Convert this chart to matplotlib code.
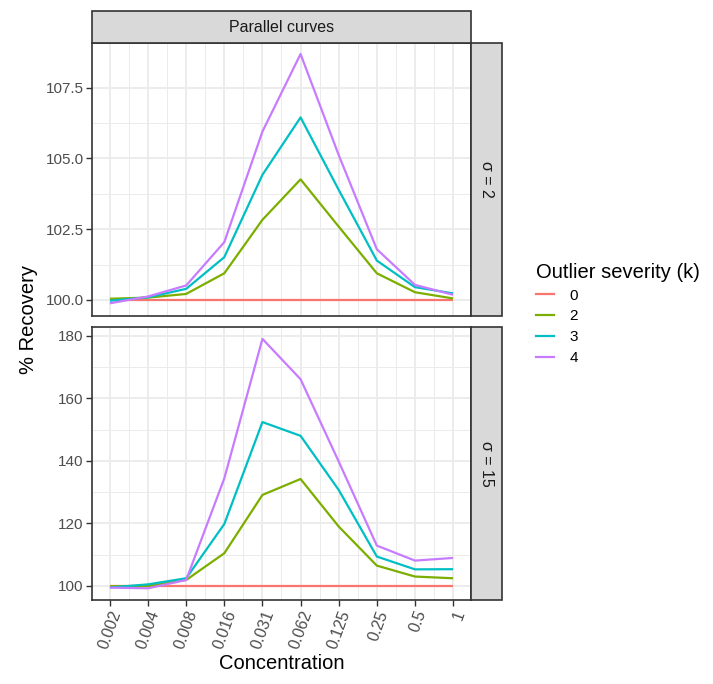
import numpy as np
import matplotlib
matplotlib.use("Agg")
import matplotlib.pyplot as plt
from matplotlib.lines import Line2D

plt.rcParams['font.family'] = ['Liberation Sans', 'DejaVu Sans']

# concentrations (discrete positions on a log2 scale)
conc_labels = ['0.002', '0.004', '0.008', '0.016', '0.031', '0.062', '0.125', '0.25', '0.5', '1']
severite = ['0', '2', '3', '4']
couleurs = ['#F8766D', '#7CAE00', '#00BFC4', '#C77CFF']

# sigma = 2
s2_k0 = [100, 100, 100, 100, 100, 100, 100, 100, 100, 100]
s2_k2 = [100.04, 100.08, 100.21, 100.94, 102.83, 104.26, 102.59, 100.94, 100.27, 100.05]
s2_k3 = [99.97, 100.09, 100.39, 101.51, 104.42, 106.45, 103.89, 101.39, 100.45, 100.23]
s2_k4 = [99.88, 100.12, 100.51, 102.04, 105.95, 108.69, 105.12, 101.79, 100.53, 100.18]

# sigma = 15
s15_k0 = [100, 100, 100, 100, 100, 100, 100, 100, 100, 100]
s15_k2 = [99.9, 100.0, 101.9, 110.45, 129.1, 134.2, 119.0, 106.5, 103.0, 102.45]
s15_k3 = [99.5, 100.5, 102.45, 119.8, 152.4, 148.0, 130.7, 109.4, 105.3, 105.35]
s15_k4 = [99.45, 99.25, 101.9, 134.4, 179.0, 166.1, 139.8, 112.9, 108.1, 108.95]

W, H = 713, 684
fig = plt.figure(figsize=(W / 100, H / 100), dpi=100)

def boite(x0, y0, x1, y1):
    return [x0 / W, 1 - y1 / H, (x1 - x0) / W, (y1 - y0) / H]

x = np.arange(len(conc_labels))
gris_txt = '#4D4D4D'
bord = '#333333'

panneaux = [
    (boite(92, 43, 471, 316), [s2_k0, s2_k2, s2_k3, s2_k4], (99.43, 109.08),
     [100, 102.5, 105, 107.5], ['100.0', '102.5', '105.0', '107.5'], 'σ = 2'),
    (boite(92, 327, 471, 600), [s15_k0, s15_k2, s15_k3, s15_k4], (95.5, 182.8),
     [100, 120, 140, 160, 180], ['100', '120', '140', '160', '180'], 'σ = 15'),
]

axes = []
for i, (pos, series, ylim, yt, ytl, lab) in enumerate(panneaux):
    ax = fig.add_axes(pos)
    for s, c in zip(series, couleurs):
        ax.plot(x, s, color=c, lw=1.6, zorder=3, solid_capstyle='butt')
    ax.set_xlim(-0.47, 9.47)
    ax.set_ylim(*ylim)
    ax.set_xticks(x)
    ax.set_xticks(x[:-1] + 0.5, minor=True)
    ax.set_yticks(yt)
    ax.set_yticks(np.array(yt[:-1]) + (yt[1] - yt[0]) / 2, minor=True)
    ax.set_yticklabels(ytl, fontsize=11, color=gris_txt)
    ax.grid(which='major', color='#EBEBEB', lw=1.3, zorder=0)
    ax.grid(which='minor', color='#EBEBEB', lw=0.7, zorder=0)
    ax.tick_params(which='minor', length=0)
    ax.tick_params(which='major', length=4, width=1, color=bord, pad=2)
    for sp in ax.spines.values():
        sp.set_color(bord)
        sp.set_linewidth(1.2)
    if i == 0:
        ax.set_xticklabels([])
        ax.tick_params(axis='x', length=0)
    else:
        ax.set_xticklabels(conc_labels, rotation=70, ha='right', va='top',
                           rotation_mode='anchor', fontsize=11.5, color=gris_txt)
        ax.set_xlabel('Concentration', fontsize=14.5, labelpad=2)
    # bande de droite
    y0 = pos[1]
    hs = pos[3]
    fig.patches.append(plt.Rectangle((471 / W, y0), 31 / W, hs, transform=fig.transFigure,
                                     facecolor='#D9D9D9', edgecolor=bord, lw=1.2))
    fig.text(486.5 / W, y0 + hs / 2, lab, rotation=-90, ha='center', va='center',
             fontsize=11.5, color='#1A1A1A')
    axes.append(ax)

# bande du haut
fig.patches.append(plt.Rectangle((92 / W, 1 - 43 / H), 379 / W, 32 / H, transform=fig.transFigure,
                                 facecolor='#D9D9D9', edgecolor=bord, lw=1.2))
fig.text(281.5 / W, 1 - 27 / H, 'Parallel curves', ha='center', va='center',
         fontsize=11.5, color='#1A1A1A')

fig.text(28 / W, 1 - 320 / H, '% Recovery', rotation=90, ha='center', va='center', fontsize=14.5)

# légende
poignees = [Line2D([], [], color=c, lw=1.6) for c in couleurs]
fig.legend(poignees, severite, title='Outlier severity (k)', loc='upper left',
           bbox_to_anchor=(522 / W, 1 - 249 / H), frameon=False, fontsize=11,
           title_fontsize=14.5, handlelength=1.2, handletextpad=1.0, labelspacing=0.45,
           alignment='left')

fig.savefig('out.png', dpi=100)
